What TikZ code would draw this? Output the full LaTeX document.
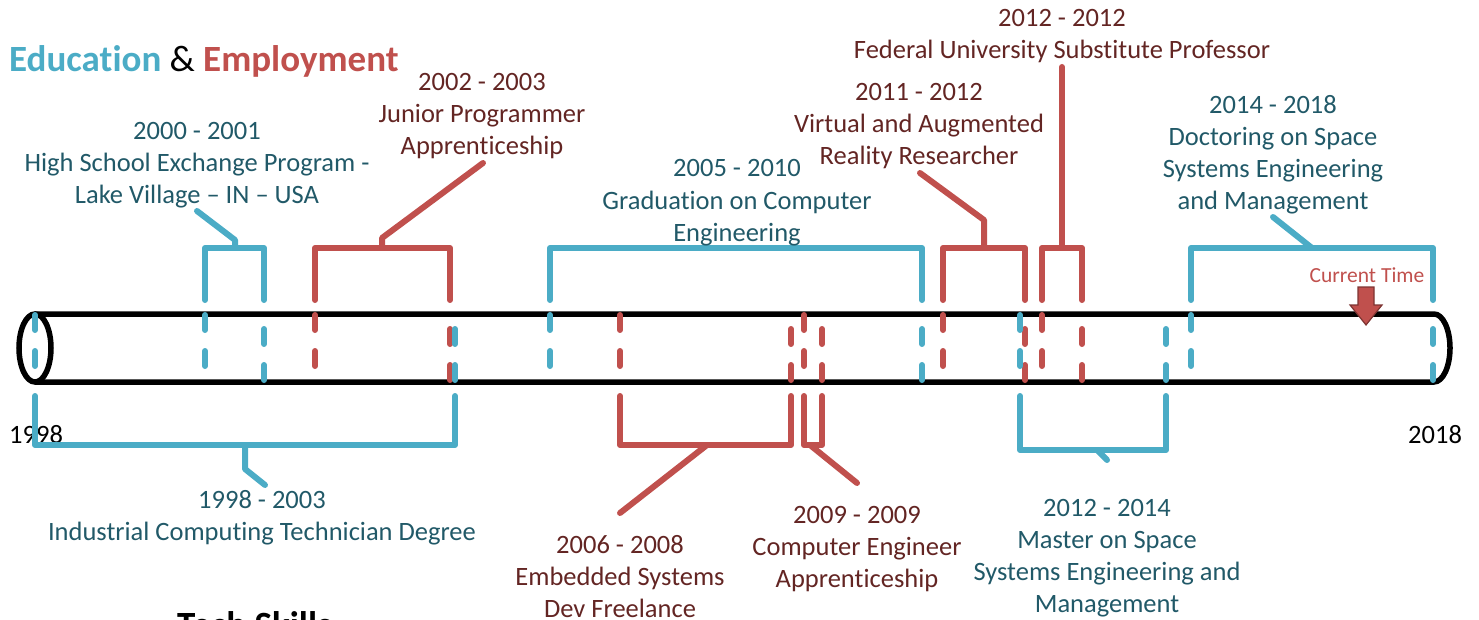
\documentclass[tikz,border=0pt]{standalone}
\usepackage{fontspec}
\setmainfont{Carlito}[Ligatures={TeX,NoCommon}]
\definecolor{edu}{HTML}{4BACC6}
\definecolor{emp}{HTML}{C0504D}
\definecolor{edutext}{HTML}{215968}
\definecolor{emptext}{HTML}{632523}

\begin{document}
\begin{tikzpicture}[x=1pt, y=-1pt,
    bar/.style={line width=5.5pt, black},
    span/.style={line width=6pt, line cap=round, line join=round},
    tick/.style={span, dash pattern=on 15pt off 21pt},
    lbl/.style={font=\fontsize{26.5}{32}\selectfont, align=center, anchor=base, inner sep=0pt}]
  \useasboundingbox (0,0) rectangle (1479,620);
  \clip (0,0) rectangle (1479,620);

  % heading
  \node[anchor=base west, inner sep=0pt, font=\fontsize{37}{40}\selectfont] (title) at (9,72)
    {\textbf{\color{edu}Education} \& \textbf{\color{emp}Employment}};
  \node[anchor=base west, inner sep=0pt, font=\fontsize{37}{40}\selectfont\bfseries] (skills) at (177,637)
    {Tech Skills};

  % the tube, 1998 .. 2018
  \draw[bar] (35,348) ellipse [x radius=16, y radius=34];
  \draw[bar] (35,314) -- (1434,314) arc[start angle=-90, end angle=90, x radius=16, y radius=34] -- (35,382);
  \node[lbl, anchor=base west] (y1998) at (9,443) {1998};
  \node[lbl, anchor=base west] (y2018) at (1408,443) {2018};

  % spans above the tube: left x / right x / colour
  \foreach \xa/\xb/\c in {205/264/edu, 550/922/edu, 1191/1433/edu,
                          315/450/emp, 943/1025/emp, 1042/1082/emp}{
    \draw[span, \c] (\xa,300) -- (\xa,248) -- (\xb,248) -- (\xb,300);
    \draw[tick, \c] (\xa,315) -- (\xa,366);
    \draw[tick, \c] (\xb,329) -- (\xb,380);
  }
  % spans below the tube: left x / right x / bracket y / colour
  \foreach \xa/\xb/\yb/\c in {35/455/445/edu, 1020/1166/450/edu,
                              620/791/445/emp, 804/822/445/emp}{
    \draw[span, \c] (\xa,396) -- (\xa,\yb) -- (\xb,\yb) -- (\xb,396);
    \draw[tick, \c] (\xa,315) -- (\xa,366);
    \draw[tick, \c] (\xb,329) -- (\xb,380);
  }

  % education labels (placed by their last line)
  \node[lbl, text=edutext] (hs) at (197,204)
    {2000 - 2001\\High School Exchange Program -\\Lake Village – IN – USA};
  \node[lbl, text=edutext] (grad) at (737,241)
    {2005 - 2010\\Graduation on Computer\\Engineering};
  \node[lbl, text=edutext] (phd) at (1273,210)
    {2014 - 2018\\Doctoring on Space\\Systems Engineering\\and Management};
  \node[lbl, text=edutext] (tech) at (262,540)
    {1998 - 2003\\Industrial Computing Technician Degree};
  \node[lbl, text=edutext] (msc) at (1107,612)
    {2012 - 2014\\Master on Space\\Systems Engineering and\\Management};

  % employment labels
  \node[lbl, text=emptext] (junior) at (482,155)
    {2002 - 2003\\Junior Programmer\\Apprenticeship};
  \node[lbl, text=emptext] (vr) at (919,165)
    {2011 - 2012\\Virtual and Augmented\\Reality Researcher};
  \node[lbl, text=emptext] (prof) at (1062,59)
    {2012 - 2012\\Federal University Substitute Professor};
  \node[lbl, text=emptext] (embed) at (620,617)
    {2006 - 2008\\Embedded Systems\\Dev Freelance};
  \node[lbl, text=emptext] (apprent) at (857,587)
    {2009 - 2009\\Computer Engineer\\Apprenticeship};

  % leader ends
  \coordinate (hsEnd) at (197,211);
  \coordinate (phdEnd) at (1273,217);
  \coordinate (techEnd) at (265,485);
  \coordinate (mscEnd) at (1107,460);
  \coordinate (juniorEnd) at (483,163);
  \coordinate (vrEnd) at (920,173);
  \coordinate (profEnd) at (1062,67);
  \coordinate (embedEnd) at (620,513);
  \coordinate (apprentEnd) at (857,483);

  % leaders from the spans
  \draw[span, edu] (235,248) -- (235,240) -- (hsEnd);
  \draw[span, edu] (1312,248) -- (phdEnd);
  \draw[span, edu] (245,445) -- (245,469) -- (techEnd);
  \draw[span, edu] (1097,450) -- (mscEnd);
  \draw[span, emp] (382,248) -- (382,238) -- (juniorEnd);
  \draw[span, emp] (984,248) -- (984,220) -- (vrEnd);
  \draw[span, emp] (1062,248) -- (profEnd);
  \draw[span, emp] (707,445) -- (embedEnd);
  \draw[span, emp] (810,445) -- (apprentEnd);

  % now marker
  \node[anchor=base, inner sep=0pt, font=\fontsize{21.5}{24}\selectfont, text=emp] (now) at (1367,282) {Current Time};
  \draw[fill=emp, draw=emp!65!black, line width=1.2pt]
    (1358,287) -- (1374,287) -- (1374,305) -- (1382,305) -- (1366,325)
    -- (1350,305) -- (1358,305) -- cycle;
\end{tikzpicture}
\end{document}
